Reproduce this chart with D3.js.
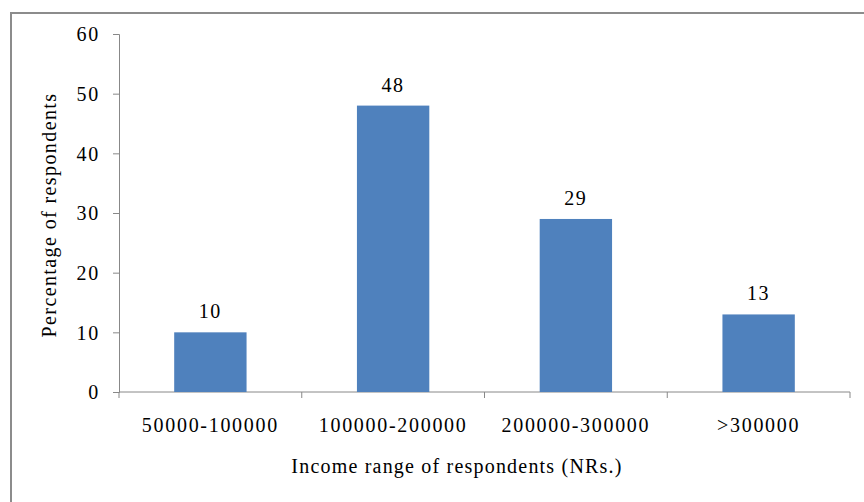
<!DOCTYPE html>
<html>
<head>
<meta charset="utf-8">
<script src="https://cdn.jsdelivr.net/npm/d3@7"></script>
<style>
  html, body { margin: 0; padding: 0; background: #fff; }
  svg { display: block; font-family: "Liberation Serif", "Times New Roman", serif; }
  .axis path, .axis line { stroke: #888; }
  .axis text { fill: #000; font-family: "Liberation Serif", "Times New Roman", serif; font-size: 20px; letter-spacing: 1.7px; }
</style>
</head>
<body>
<div id="chart"></div>
<script>
const categories = ["50000-100000", "100000-200000", "200000-300000", ">300000"];
const values = [10, 48, 29, 13];
const yTicks = [0, 10, 20, 30, 40, 50, 60];
const xTitle = "Income range of respondents (NRs.)";
const yTitle = "Percentage of respondents";

const width = 864;
const height = 502;
const margin = { top: 34, right: 14, bottom: 110, left: 119 };

const svg = d3.select("#chart").append("svg")
  .attr("width", width)
  .attr("height", height);

// outer frame (only top/left edges fall inside the picture)
svg.append("rect")
  .attr("x", 11)
  .attr("y", 13)
  .attr("width", width + 20)
  .attr("height", height + 20)
  .attr("fill", "none")
  .attr("stroke", "#8c8c8c")
  .attr("stroke-width", 2);

const x = d3.scaleBand()
  .domain(categories)
  .range([margin.left, width - margin.right])
  .padding(0);

const y = d3.scaleLinear()
  .domain([0, 60])
  .range([height - margin.bottom, margin.top]);

const barW = x.bandwidth() * 0.396;

// y axis
svg.append("g")
  .attr("class", "axis")
  .attr("transform", `translate(${margin.left},0)`)
  .call(d3.axisLeft(y).tickValues(yTicks).tickSize(6).tickPadding(13))
  .call((g) => g.selectAll(".tick text").attr("dy", "0.34em"));

// x axis line with boundary ticks
const gX = svg.append("g")
  .attr("class", "axis")
  .attr("transform", `translate(0,${y(0)})`);

gX.append("line")
  .attr("x1", x.range()[0])
  .attr("x2", x.range()[1])
  .attr("stroke", "#888");

gX.selectAll(".sep")
  .data(categories.map((c) => x(c)).concat([x.range()[1]]))
  .join("line")
  .attr("class", "sep")
  .attr("x1", (d) => d)
  .attr("x2", (d) => d)
  .attr("y1", 0)
  .attr("y2", 6);

gX.selectAll(".cat")
  .data(categories)
  .join("text")
  .attr("class", "cat")
  .attr("text-anchor", "middle")
  .attr("x", (d) => x(d) + x.bandwidth() / 2)
  .attr("y", 40)
  .text((d) => d);

// bars
svg.append("g")
  .selectAll("rect")
  .data(values)
  .join("rect")
  .attr("x", (d, i) => x(categories[i]) + x.bandwidth() / 2 - barW / 2)
  .attr("y", (d) => y(d))
  .attr("width", barW)
  .attr("height", (d) => y(0) - y(d))
  .attr("fill", "#4f81bd");

// value labels
svg.append("g")
  .selectAll("text")
  .data(values)
  .join("text")
  .attr("text-anchor", "middle")
  .attr("x", (d, i) => x(categories[i]) + x.bandwidth() / 2)
  .attr("y", (d) => y(d) - 14)
  .attr("font-size", 20)
  .attr("letter-spacing", "1.7px")
  .text((d) => d);

// axis titles
svg.append("text")
  .attr("text-anchor", "middle")
  .attr("x", 457)
  .attr("y", 473)
  .attr("font-size", 20)
  .attr("letter-spacing", "1.2px")
  .text(xTitle);

svg.append("text")
  .attr("text-anchor", "middle")
  .attr("transform", `translate(56,${(y(0) + y(60)) / 2 + 2}) rotate(-90)`)
  .attr("font-size", 20)
  .attr("letter-spacing", "1.4px")
  .text(yTitle);
</script>
</body>
</html>
